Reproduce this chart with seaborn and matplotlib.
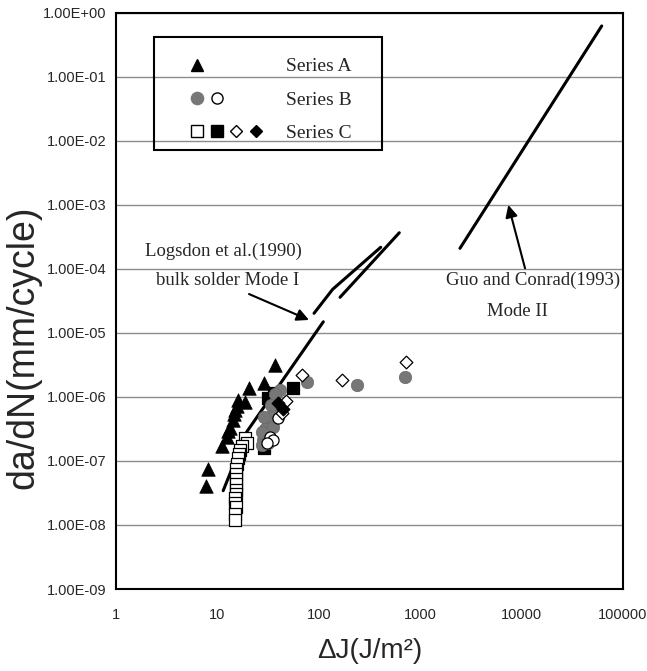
import matplotlib
matplotlib.use("Agg")
import numpy as np
import matplotlib.pyplot as plt
import seaborn as sns
from matplotlib.lines import Line2D
from matplotlib.patches import Rectangle
from matplotlib.legend_handler import HandlerTuple
from matplotlib.ticker import LogLocator, FuncFormatter, NullFormatter

# data (x = Delta J in J/m^2, y = da/dN in mm/cycle)
series_a_x = [37.4, 29.0, 20.6, 16.1, 18.7, 15.5, 14.9, 14.6, 14.1, 13.3, 12.8, 12.3, 11.0, 8.1, 7.7]
series_a_y = [3.2e-6, 1.62e-6, 1.36e-6, 8.9e-7, 8.4e-7, 7.3e-7, 6.2e-7, 5.4e-7, 4.4e-7, 3.3e-7,
              2.9e-7, 2.4e-7, 1.7e-7, 7.4e-8, 4.1e-8]

series_b_gray_x = [76, 236.5, 708, 41.4, 37.2, 38.3, 34.4, 31.9, 29.5, 30.6, 28.4, 31.9, 27.3,
                   35.7, 33.5, 29.0, 27.5, 32.0]
series_b_gray_y = [1.73e-6, 1.53e-6, 2.07e-6, 1.28e-6, 1.1e-6, 6.2e-7, 5.3e-7, 4.1e-7, 3.2e-7,
                   2.55e-7, 2.1e-7, 1.9e-7, 1.8e-7, 3.4e-7, 7.5e-7, 4.8e-7, 2.8e-7, 2.2e-7]
series_b_open_x = [33.0, 35.7, 39.5, 31.0]
series_b_open_y = [2.4e-7, 2.1e-7, 4.6e-7, 1.9e-7]

series_c_sq_open_x = [18.7, 19.5, 17.6, 16.7, 16.2, 15.8, 15.5, 15.4, 15.3, 15.2, 15.2, 15.1,
                      15.1, 15.0, 15.0, 15.1, 15.0, 15.0]
series_c_sq_open_y = [2.3e-7, 1.9e-7, 1.7e-7, 1.5e-7, 1.3e-7, 1.1e-7, 9.0e-8, 7.5e-8, 6.3e-8,
                      5.2e-8, 4.3e-8, 3.5e-8, 3.0e-8, 2.6e-8, 2.2e-8, 1.9e-8, 1.5e-8, 1.2e-8]
series_c_sq_fill_x = [56, 31.8, 28.8, 36]
series_c_sq_fill_y = [1.36e-6, 9.5e-7, 1.57e-7, 1.15e-6]
series_c_dia_open_x = [67.8, 168, 724, 48, 43]
series_c_dia_open_y = [2.2e-6, 1.83e-6, 3.54e-6, 8.6e-7, 5.6e-7]
series_c_dia_fill_x = [44, 40]
series_c_dia_fill_y = [6.5e-7, 8.0e-7]

logsdon_main_x = [11.4, 19.5, 110.8]
logsdon_main_y = [3.43e-8, 2.86e-7, 1.49e-5]
logsdon_a_x = [89.7, 137, 408]
logsdon_a_y = [2.02e-5, 4.79e-5, 2.17e-4]
logsdon_b_x = [161.9, 622]
logsdon_b_y = [3.59e-5, 3.66e-4]
guo_x = [2467, 61660]
guo_y = [2.09e-4, 0.62]

sns.set_style("white")
plt.rcParams["font.family"] = ["Liberation Sans", "DejaVu Sans"]
serif = "Liberation Serif"

fig = plt.figure(figsize=(6.47, 6.71), dpi=100)
ax = fig.add_axes([0.1793, 0.1222, 0.7836, 0.8589])
ax.set_xscale("log")
ax.set_yscale("log")
ax.set_xlim(1, 1e5)
ax.set_ylim(1e-9, 1)

# curves
for lx, ly in [(logsdon_main_x, logsdon_main_y), (logsdon_a_x, logsdon_a_y),
               (logsdon_b_x, logsdon_b_y), (guo_x, guo_y)]:
    sns.lineplot(x=lx, y=ly, sort=False, estimator=None, color="black", lw=2.2, ax=ax)

# points
sns.scatterplot(x=series_c_sq_open_x, y=series_c_sq_open_y, marker="s", s=64, color="white",
                edgecolor="black", linewidth=0.9, ax=ax, zorder=3)
sns.scatterplot(x=series_c_sq_fill_x, y=series_c_sq_fill_y, marker="s", s=64, color="black",
                edgecolor="black", linewidth=0.9, ax=ax, zorder=3)
sns.scatterplot(x=series_a_x, y=series_a_y, marker="^", s=95, color="black",
                edgecolor="black", linewidth=0.5, ax=ax, zorder=3)
sns.scatterplot(x=series_b_gray_x, y=series_b_gray_y, marker="o", s=80, color="#777777",
                edgecolor="#6a6a6a", linewidth=0.5, ax=ax, zorder=4)
sns.scatterplot(x=series_b_open_x, y=series_b_open_y, marker="o", s=64, color="white",
                edgecolor="black", linewidth=0.9, ax=ax, zorder=4)
sns.scatterplot(x=series_c_dia_open_x, y=series_c_dia_open_y, marker="D", s=42, color="white",
                edgecolor="black", linewidth=0.9, ax=ax, zorder=4)
sns.scatterplot(x=series_c_dia_fill_x, y=series_c_dia_fill_y, marker="D", s=42, color="black",
                edgecolor="black", linewidth=0.9, ax=ax, zorder=4)

# annotations
ax.text(11.4, 1.9e-4, "Logsdon et al.(1990)", ha="center", va="center", fontsize=13.5, family=serif)
ax.text(12.7, 6.68e-5, "bulk solder Mode I", ha="center", va="center", fontsize=13.5, family=serif)
ax.annotate("", xy=(80.0, 1.59e-5), xytext=(20.5, 4.04e-5),
            arrowprops=dict(arrowstyle="-|>", color="black", lw=1.5, mutation_scale=18,
                            shrinkA=0, shrinkB=0))
ax.text(12950, 6.68e-5, "Guo and Conrad(1993)", ha="center", va="center", fontsize=13.5, family=serif)
ax.text(9010, 2.14e-5, "Mode II", ha="center", va="center", fontsize=13.5, family=serif)
ax.annotate("", xy=(7396, 9.93e-4), xytext=(10810, 1.02e-4),
            arrowprops=dict(arrowstyle="-|>", color="black", lw=1.5, mutation_scale=18,
                            shrinkA=0, shrinkB=0))

# legend (box drawn separately, like the text box of the original)
blank = Line2D([], [], linestyle="none")
tri = Line2D([], [], marker="^", color="black", linestyle="none", markersize=9)
gcirc = Line2D([], [], marker="o", color="#777777", linestyle="none", markersize=8.8)
ocirc = Line2D([], [], marker="o", markerfacecolor="white", markeredgecolor="black",
               linestyle="none", markersize=8)
osq = Line2D([], [], marker="s", markerfacecolor="white", markeredgecolor="black",
             linestyle="none", markersize=8)
fsq = Line2D([], [], marker="s", color="black", linestyle="none", markersize=8)
odia = Line2D([], [], marker="D", markerfacecolor="white", markeredgecolor="black",
              linestyle="none", markersize=6.4)
fdia = Line2D([], [], marker="D", color="black", linestyle="none", markersize=6.4)
leg = ax.legend([(tri, blank, blank, blank), (gcirc, ocirc, blank, blank),
                 (osq, fsq, odia, fdia)],
                ["Series A", "Series B", "Series C"],
                handler_map={tuple: HandlerTuple(ndivide=None, pad=0)},
                loc="upper left", bbox_to_anchor=(0.1404, 0.9217), borderaxespad=0,
                prop={"family": serif, "size": 14}, handlelength=4.03, handletextpad=1.05,
                borderpad=0, labelspacing=0.8, frameon=False)
ax.add_patch(Rectangle((0.075, 0.7618), 0.4497, 0.1961, transform=ax.transAxes,
                       fill=False, edgecolor="black", lw=1.5, zorder=5))

# axes styling
ax.grid(axis="y", which="major", color="#8c8c8c", lw=1)
ax.grid(axis="x", which="both", visible=False)
ax.set_axisbelow(True)
for sp in ax.spines.values():
    sp.set_color("black")
    sp.set_linewidth(1.5)
ax.yaxis.set_major_locator(LogLocator(base=10, numticks=20))
ax.yaxis.set_minor_locator(LogLocator(base=10, subs=np.arange(2, 10), numticks=200))
ax.yaxis.set_minor_formatter(NullFormatter())
ax.yaxis.set_major_formatter(FuncFormatter(lambda v, p: f"{v:.2E}"))
ax.xaxis.set_major_locator(LogLocator(base=10, numticks=20))
ax.xaxis.set_minor_locator(LogLocator(base=10, subs=np.arange(2, 10), numticks=200))
ax.xaxis.set_minor_formatter(NullFormatter())
ax.xaxis.set_major_formatter(FuncFormatter(lambda v, p: f"{int(round(v))}"))
ax.tick_params(which="both", direction="in", top=False, right=False, color="black", width=1)
ax.tick_params(which="major", length=5, labelsize=10.5)
ax.tick_params(axis="y", which="major", pad=7)
ax.tick_params(axis="x", which="major", pad=13.5)
ax.tick_params(which="minor", length=3.5)

ax.set_ylabel("da/dN(mm/cycle)", fontsize=27)
ax.set_xlabel("ΔJ(J/m²)", fontsize=20)
ax.yaxis.set_label_coords(-0.148, 0.42)
ax.xaxis.set_label_coords(0.5, -0.085)

fig.savefig("out.png", dpi=100)
